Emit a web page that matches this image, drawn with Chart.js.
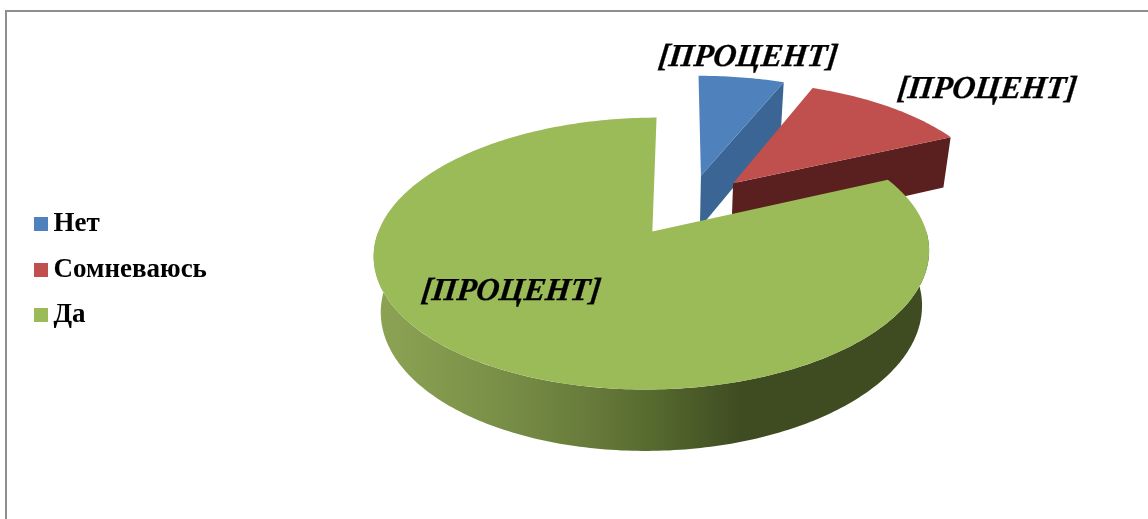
<!DOCTYPE html>
<html>
<head>
<meta charset="utf-8">
<style>
html,body{margin:0;padding:0;background:#fff;overflow:hidden}
#frame{position:absolute;left:5px;top:10px;right:-4px;bottom:-4px;border:2px solid #8e8e8e}
canvas{position:absolute;left:0;top:0}
</style>
<script src="https://cdn.jsdelivr.net/npm/chart.js@4"></script>
</head>
<body>
<div id="frame"></div>
<canvas id="c" width="1148" height="519"></canvas>
<script>
const categories = ['Нет', 'Сомневаюсь', 'Да'];
const values = [6.2, 12, 81.8];
const sliceColors = ['#4f81bd', '#c0504d', '#9bbb59'];
const wallColors = ['#3a6594', '#5a1f1f', null];
const dataLabels = ['[ПРОЦЕНТ]', '[ПРОЦЕНТ]', '[ПРОЦЕНТ]'];

// perspective view of the flat pie plane, in pie-radius units
const view = {
  originU: 0.133, originV: -0.209, p: 0.162, shear: 0.044,
  x0: 651.5, top: {y0: 231.5, ym: 254, ax: 274, ay: 132.4},
  bottom: {y0: 286, ym: 310, ax: 267, ay: 138.2}
};
function project(u, v, plane) {
  const w = 1 - view.p * v;
  const y = plane.y0 + plane.ay * v / w;
  return {x: view.x0 + plane.ax * u / w - view.shear * (y - plane.ym), y};
}
function slicePoint(el, rad, ang, plane) {
  const off = (el.options.offset || 0) / 4 / el.outerRadius;
  const mid = (el.startAngle + el.endAngle) / 2;
  const u = view.originU + off * Math.cos(mid) + rad * Math.cos(ang);
  const v = view.originV + off * Math.sin(mid) + rad * Math.sin(ang);
  return project(u, v, plane);
}
function poly(ctx, pts, fill) {
  ctx.beginPath();
  pts.forEach((p, i) => i ? ctx.lineTo(p.x, p.y) : ctx.moveTo(p.x, p.y));
  ctx.closePath();
  ctx.fillStyle = fill;
  ctx.fill();
}
function arcPts(el, a1, a2, plane) {
  const n = Math.max(8, Math.ceil(Math.abs(a2 - a1) * 60));
  const out = [];
  for (let i = 0; i <= n; i++) out.push(slicePoint(el, 1, a1 + (a2 - a1) * i / n, plane));
  return out;
}
function curvedWall(ctx, el, a1, a2, fill) {
  const t = arcPts(el, a1, a2, view.top), b = arcPts(el, a1, a2, view.bottom);
  ctx.beginPath();
  for (let i = 0; i < t.length - 1; i++) {
    ctx.moveTo(t[i].x, t[i].y);
    ctx.lineTo(t[i + 1].x, t[i + 1].y);
    ctx.lineTo(b[i + 1].x, b[i + 1].y);
    ctx.lineTo(b[i].x, b[i].y);
    ctx.closePath();
  }
  ctx.fillStyle = fill;
  ctx.fill();
}
const pie3d = {
  id: 'pie3d',
  beforeDatasetDraw(chart) {
    const ctx = chart.ctx;
    const arcs = chart.getDatasetMeta(0).data;
    ctx.save();
    arcs.forEach((el, i) => {
      const s = el.startAngle, e = el.endAngle;
      if (wallColors[i]) {
        poly(ctx, [
          slicePoint(el, 0, 0, view.top), slicePoint(el, 1, e, view.top),
          slicePoint(el, 1, e, view.bottom), slicePoint(el, 0, 0, view.bottom)
        ], wallColors[i]);
      } else {
        const g = ctx.createLinearGradient(380, 0, 925, 0);
        g.addColorStop(0, '#8ca253');
        g.addColorStop(0.2, '#7b9148');
        g.addColorStop(0.4, '#66793a');
        g.addColorStop(0.5, '#566a2e');
        g.addColorStop(0.66, '#3f4c22');
        g.addColorStop(1, '#3f4b21');
        curvedWall(ctx, el, 0, Math.PI, g);
      }
      poly(ctx, [slicePoint(el, 0, 0, view.top)].concat(arcPts(el, s, e, view.top)), sliceColors[i]);
    });
    ctx.font = 'italic bold 32px "Liberation Serif"';
    ctx.textAlign = 'center';
    ctx.textBaseline = 'middle';
    ctx.fillStyle = '#000';
    ctx.strokeStyle = '#000';
    ctx.lineWidth = 0.3;
    const spots = [[748, 58], [987, 90], [511, 292]];
    dataLabels.forEach((t, i) => {
      ctx.save();
      ctx.transform(1, 0, -0.12, 1, spots[i][0], spots[i][1]);
      ctx.fillText(t, 0, 0);
      ctx.strokeText(t, 0, 0);
      ctx.restore();
    });
    ctx.restore();
    return false;
  }
};
function swatch(color) {
  const c = document.createElement('canvas');
  c.width = 17; c.height = 14;
  const x = c.getContext('2d');
  x.fillStyle = color; x.fillRect(3, 0, 14, 14);
  return c;
}
const swatches = sliceColors.map(swatch);
new Chart(document.getElementById('c'), {
  type: 'pie',
  data: {labels: categories, datasets: [{data: values, backgroundColor: sliceColors, borderWidth: 0, offset: 165.3}]},
  options: {
    responsive: false,
    animation: false,
    rotation: -0.2,
    layout: {padding: {left: 20.5, top: 20.5}},
    plugins: {
      tooltip: {enabled: false},
      legend: {
        position: 'left',
        labels: {
          padding: 18.5,
          usePointStyle: true,
          pointStyleWidth: 1,
          color: '#000',
          font: {family: '"Liberation Serif"', size: 27, weight: 'bold'},
          generateLabels(chart) {
            return Chart.overrides.pie.plugins.legend.labels.generateLabels(chart)
              .map((it, i) => Object.assign(it, {pointStyle: swatches[i]}));
          }
        }
      }
    }
  },
  plugins: [pie3d]
});
</script>
</body>
</html>
